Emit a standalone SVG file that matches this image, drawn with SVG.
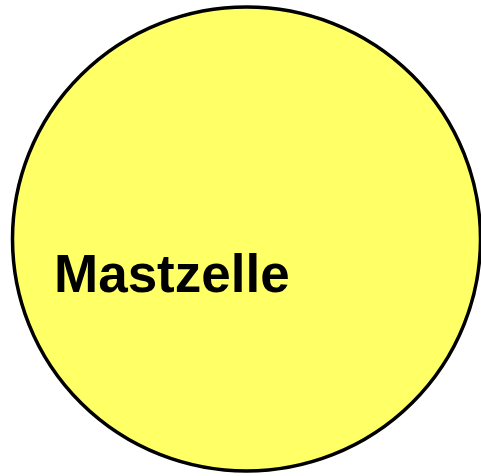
<svg xmlns="http://www.w3.org/2000/svg" width="481" height="476" viewBox="0 0 481 476">
<style>
.cell{fill:#ffff66;stroke:#000;stroke-width:3.5}
.lbl{font-family:"Liberation Sans",Arial,sans-serif;font-weight:bold;font-size:53px;fill:#000}
</style>
<rect width="481" height="476" fill="#fff"/>
<g id="mastzelle">
<ellipse class="cell" cx="246.5" cy="239" rx="234" ry="232"/>
<text class="lbl" x="54" y="292">Mastzelle</text>
</g>
<g id="connectors"/>
</svg>
